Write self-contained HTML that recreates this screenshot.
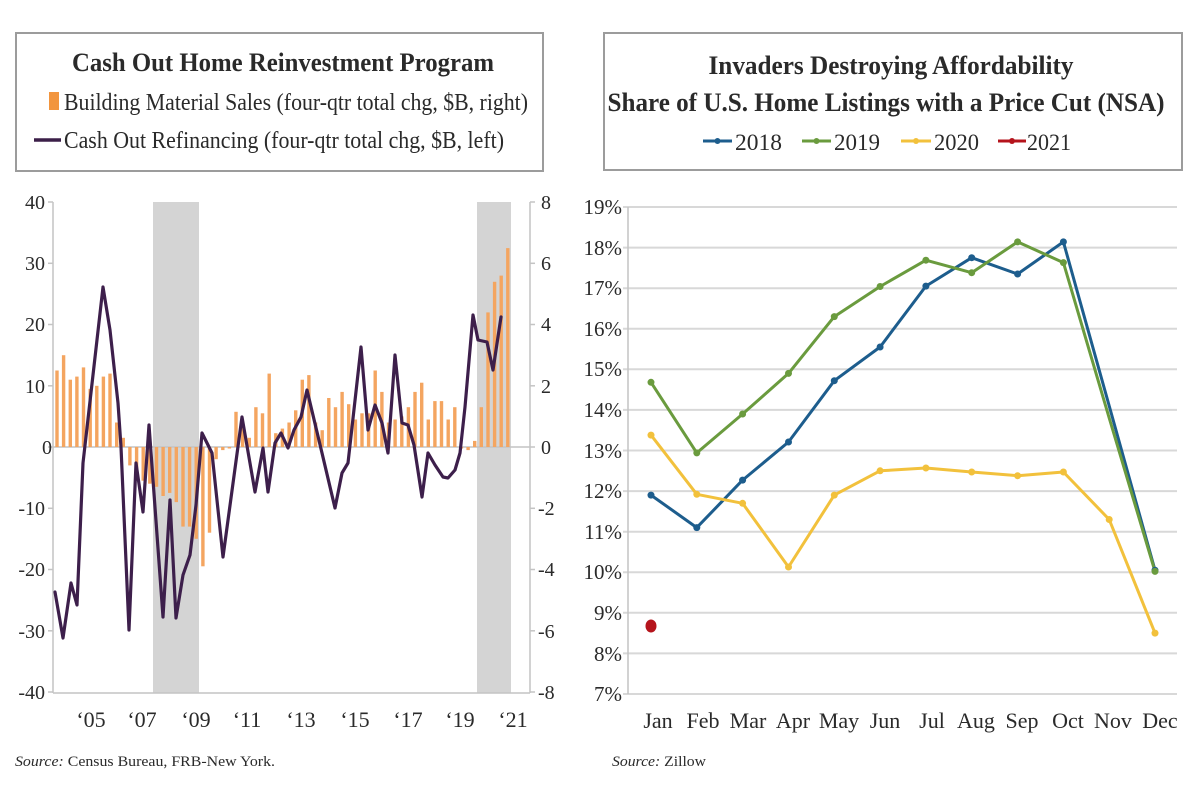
<!DOCTYPE html>
<html><head><meta charset="utf-8"><style>
html,body{margin:0;padding:0;background:#fff;}
svg{display:block;}
text{font-family:"Liberation Serif",serif;fill:#2a2a2a;}
</style></head><body>
<svg width="1200" height="800" viewBox="0 0 1200 800" xmlns="http://www.w3.org/2000/svg">
<rect width="1200" height="800" fill="#fff"/>

<!-- ===== LEFT PANEL ===== -->
<rect x="16" y="33" width="527" height="138" fill="#fff" stroke="#9c9c9c" stroke-width="2"/>
<text x="283" y="71" text-anchor="middle" font-size="26" font-weight="bold" textLength="422" lengthAdjust="spacingAndGlyphs">Cash Out Home Reinvestment Program</text>
<rect x="49" y="92" width="10" height="18" fill="#f2953e"/>
<text x="64" y="110" font-size="24" textLength="464" lengthAdjust="spacingAndGlyphs">Building Material Sales (four-qtr total chg, $B, right)</text>
<line x1="34" y1="140" x2="61" y2="140" stroke="#3b1f48" stroke-width="3.5"/>
<text x="64" y="148" font-size="24" textLength="440" lengthAdjust="spacingAndGlyphs">Cash Out Refinancing (four-qtr total chg, $B, left)</text>

<!-- recession bands -->
<rect x="153" y="202" width="46" height="491" fill="#d4d4d4"/>
<rect x="477" y="202" width="34" height="491" fill="#d4d4d4"/>

<!-- axes -->
<g stroke="#c4c4c4" stroke-width="1.5" fill="none">
<line x1="53" y1="202" x2="53" y2="693"/>
<line x1="530" y1="202" x2="530" y2="693"/>
<line x1="53" y1="447" x2="530" y2="447"/>
<line x1="53" y1="693" x2="530" y2="693"/>
<line x1="48" y1="202" x2="53" y2="202"/><line x1="48" y1="263.3" x2="53" y2="263.3"/><line x1="48" y1="324.5" x2="53" y2="324.5"/><line x1="48" y1="385.8" x2="53" y2="385.8"/><line x1="48" y1="447" x2="53" y2="447"/><line x1="48" y1="508.3" x2="53" y2="508.3"/><line x1="48" y1="569.5" x2="53" y2="569.5"/><line x1="48" y1="630.8" x2="53" y2="630.8"/><line x1="48" y1="692" x2="53" y2="692"/>
<line x1="530" y1="202" x2="535" y2="202"/><line x1="530" y1="263.3" x2="535" y2="263.3"/><line x1="530" y1="324.5" x2="535" y2="324.5"/><line x1="530" y1="385.8" x2="535" y2="385.8"/><line x1="530" y1="447" x2="535" y2="447"/><line x1="530" y1="508.3" x2="535" y2="508.3"/><line x1="530" y1="569.5" x2="535" y2="569.5"/><line x1="530" y1="630.8" x2="535" y2="630.8"/><line x1="530" y1="692" x2="535" y2="692"/>
</g>

<!-- left axis labels -->
<g font-size="20" text-anchor="end">
<text x="45" y="209">40</text>
<text x="45" y="270">30</text>
<text x="45" y="331">20</text>
<text x="45" y="393">10</text>
<text x="52" y="454">0</text>
<text x="45" y="515">-10</text>
<text x="45" y="576">-20</text>
<text x="45" y="638">-30</text>
<text x="45" y="699">-40</text>
</g>
<!-- right axis labels -->
<g font-size="20" text-anchor="start">
<text x="541" y="209">8</text>
<text x="541" y="270">6</text>
<text x="541" y="331">4</text>
<text x="541" y="393">2</text>
<text x="541" y="454">0</text>
<text x="538" y="515">-2</text>
<text x="538" y="576">-4</text>
<text x="538" y="638">-6</text>
<text x="538" y="699">-8</text>
</g>
<!-- x labels -->
<g font-size="22" text-anchor="middle">
<text x="91" y="727">‘05</text>
<text x="142" y="727">‘07</text>
<text x="196" y="727">‘09</text>
<text x="247" y="727">‘11</text>
<text x="301" y="727">‘13</text>
<text x="355" y="727">‘15</text>
<text x="408" y="727">‘17</text>
<text x="460" y="727">‘19</text>
<text x="513" y="727">‘21</text>
</g>

<!-- bars -->
<g fill="#f4a560">
<rect x="55.3" y="370.5" width="3.4" height="76.5"/>
<rect x="61.9" y="355.2" width="3.4" height="91.8"/>
<rect x="68.6" y="379.7" width="3.4" height="67.3"/>
<rect x="75.2" y="376.6" width="3.4" height="70.4"/>
<rect x="81.8" y="367.4" width="3.4" height="79.6"/>
<rect x="88.5" y="388.9" width="3.4" height="58.1"/>
<rect x="95.1" y="385.8" width="3.4" height="61.2"/>
<rect x="101.7" y="376.6" width="3.4" height="70.4"/>
<rect x="108.3" y="373.6" width="3.4" height="73.4"/>
<rect x="115.0" y="422.5" width="3.4" height="24.5"/>
<rect x="121.6" y="437.8" width="3.4" height="9.2"/>
<rect x="128.2" y="447" width="3.4" height="18.4"/>
<rect x="134.9" y="447" width="3.4" height="27.5"/>
<rect x="141.5" y="447" width="3.4" height="33.7"/>
<rect x="148.1" y="447" width="3.4" height="36.7"/>
<rect x="154.8" y="447" width="3.4" height="39.8"/>
<rect x="161.4" y="447" width="3.4" height="49"/>
<rect x="168.0" y="447" width="3.4" height="45.9"/>
<rect x="174.6" y="447" width="3.4" height="55.1"/>
<rect x="181.3" y="447" width="3.4" height="79.6"/>
<rect x="187.9" y="447" width="3.4" height="79.6"/>
<rect x="194.5" y="447" width="3.4" height="91.8"/>
<rect x="201.2" y="447" width="3.4" height="119.3"/>
<rect x="207.8" y="447" width="3.4" height="85.7"/>
<rect x="214.4" y="447" width="3.4" height="12.2"/>
<rect x="221.1" y="447" width="3.4" height="3.1"/>
<rect x="227.7" y="447" width="3.4" height="1.5"/>
<rect x="234.3" y="411.8" width="3.4" height="35.2"/>
<rect x="240.9" y="422.5" width="3.4" height="24.5"/>
<rect x="247.6" y="437.8" width="3.4" height="9.2"/>
<rect x="254.2" y="407.2" width="3.4" height="39.8"/>
<rect x="260.8" y="413.3" width="3.4" height="33.7"/>
<rect x="267.5" y="373.6" width="3.4" height="73.4"/>
<rect x="274.1" y="433.2" width="3.4" height="13.8"/>
<rect x="280.7" y="428.6" width="3.4" height="18.4"/>
<rect x="287.4" y="422.5" width="3.4" height="24.5"/>
<rect x="294.0" y="410.3" width="3.4" height="36.7"/>
<rect x="300.6" y="379.7" width="3.4" height="67.3"/>
<rect x="307.2" y="375.1" width="3.4" height="71.9"/>
<rect x="313.9" y="422.5" width="3.4" height="24.5"/>
<rect x="320.5" y="430.2" width="3.4" height="16.8"/>
<rect x="327.1" y="398" width="3.4" height="49"/>
<rect x="333.8" y="407.2" width="3.4" height="39.8"/>
<rect x="340.4" y="391.9" width="3.4" height="55.1"/>
<rect x="347.0" y="404.2" width="3.4" height="42.8"/>
<rect x="353.7" y="419.5" width="3.4" height="27.5"/>
<rect x="360.3" y="413.3" width="3.4" height="33.7"/>
<rect x="366.9" y="413.3" width="3.4" height="33.7"/>
<rect x="373.5" y="370.5" width="3.4" height="76.5"/>
<rect x="380.2" y="391.9" width="3.4" height="55.1"/>
<rect x="386.8" y="422.5" width="3.4" height="24.5"/>
<rect x="393.4" y="419.5" width="3.4" height="27.5"/>
<rect x="400.1" y="416.4" width="3.4" height="30.6"/>
<rect x="406.7" y="407.2" width="3.4" height="39.8"/>
<rect x="413.3" y="391.9" width="3.4" height="55.1"/>
<rect x="420.0" y="382.7" width="3.4" height="64.3"/>
<rect x="426.6" y="419.5" width="3.4" height="27.5"/>
<rect x="433.2" y="401.1" width="3.4" height="45.9"/>
<rect x="439.8" y="401.1" width="3.4" height="45.9"/>
<rect x="446.5" y="419.5" width="3.4" height="27.5"/>
<rect x="453.1" y="407.2" width="3.4" height="39.8"/>
<rect x="459.7" y="447" width="3.4" height="1.5"/>
<rect x="466.4" y="447" width="3.4" height="3.1"/>
<rect x="473.0" y="440.9" width="3.4" height="6.1"/>
<rect x="479.6" y="407.2" width="3.4" height="39.8"/>
<rect x="486.3" y="312.4" width="3.4" height="134.6"/>
<rect x="492.9" y="281.8" width="3.4" height="165.2"/>
<rect x="499.5" y="275.6" width="3.4" height="171.4"/>
<rect x="506.1" y="248.1" width="3.4" height="198.9"/>
</g>

<!-- cash out line -->
<polyline fill="none" stroke="#3d1f4b" stroke-width="3.2" stroke-linejoin="round" stroke-linecap="round"
points="55,592 63,638 71,583 77,605 83,463 103,287 110,330 118,403 121,447 129,630 136,463 143,512 149,425 163,617 170,500 176,618 183,575 190,555 196,505 202,433 212,453 223,557 242,417 255,492 263,448 268,492 275,443 281,433 288,448 294,430 301,417 307,390 322,453 335,508 342,473 348,463 361,347 368,430 375,405 382,423 388,453 395,355 402,423 408,425 414,445 422,497 428,453 435,465 443,477 448,478 455,470 460,453 465,407 473,315 478,340 487,342 493,370 501,317"/>

<text x="15" y="766" font-size="15" textLength="260" lengthAdjust="spacingAndGlyphs"><tspan font-style="italic">Source:</tspan>  Census Bureau, FRB-New York.</text>

<!-- ===== RIGHT PANEL ===== -->
<rect x="604" y="33" width="578" height="137" fill="#fff" stroke="#9c9c9c" stroke-width="2"/>
<text x="891" y="74" text-anchor="middle" font-size="26" font-weight="bold" textLength="365" lengthAdjust="spacingAndGlyphs">Invaders Destroying Affordability</text>
<text x="886" y="111" text-anchor="middle" font-size="26" font-weight="bold" textLength="557" lengthAdjust="spacingAndGlyphs">Share of U.S. Home Listings with a Price Cut (NSA)</text>
<g font-size="23">
<line x1="703" y1="141" x2="732" y2="141" stroke="#1d5d8d" stroke-width="3"/><circle cx="717.5" cy="141" r="3" fill="#1d5d8d"/>
<text x="735" y="150" textLength="47" lengthAdjust="spacingAndGlyphs">2018</text>
<line x1="802" y1="141" x2="831" y2="141" stroke="#6a9b3e" stroke-width="3"/><circle cx="816.5" cy="141" r="3" fill="#6a9b3e"/>
<text x="834" y="150" textLength="46" lengthAdjust="spacingAndGlyphs">2019</text>
<line x1="901" y1="141" x2="931" y2="141" stroke="#f2c13c" stroke-width="3"/><circle cx="916" cy="141" r="3" fill="#f2c13c"/>
<text x="934" y="150" textLength="45" lengthAdjust="spacingAndGlyphs">2020</text>
<line x1="998" y1="141" x2="1026" y2="141" stroke="#b5141c" stroke-width="3"/><circle cx="1012" cy="141" r="3" fill="#b5141c"/>
<text x="1027" y="150" textLength="44" lengthAdjust="spacingAndGlyphs">2021</text>
</g>

<!-- gridlines -->
<g stroke="#d8d8d8" stroke-width="2">
<line x1="623" y1="207" x2="1177" y2="207"/>
<line x1="623" y1="247.6" x2="1177" y2="247.6"/>
<line x1="623" y1="288.2" x2="1177" y2="288.2"/>
<line x1="623" y1="328.8" x2="1177" y2="328.8"/>
<line x1="623" y1="369.3" x2="1177" y2="369.3"/>
<line x1="623" y1="409.9" x2="1177" y2="409.9"/>
<line x1="623" y1="450.5" x2="1177" y2="450.5"/>
<line x1="623" y1="491.1" x2="1177" y2="491.1"/>
<line x1="623" y1="531.7" x2="1177" y2="531.7"/>
<line x1="623" y1="572.3" x2="1177" y2="572.3"/>
<line x1="623" y1="612.8" x2="1177" y2="612.8"/>
<line x1="623" y1="653.4" x2="1177" y2="653.4"/>
<line x1="623" y1="694" x2="1177" y2="694"/>
</g>
<line x1="628" y1="207" x2="628" y2="694" stroke="#c4c4c4" stroke-width="1.5"/>

<g font-size="21" text-anchor="end">
<text x="622" y="214">19%</text>
<text x="622" y="255">18%</text>
<text x="622" y="295">17%</text>
<text x="622" y="336">16%</text>
<text x="622" y="376">15%</text>
<text x="622" y="417">14%</text>
<text x="622" y="458">13%</text>
<text x="622" y="498">12%</text>
<text x="622" y="539">11%</text>
<text x="622" y="579">10%</text>
<text x="622" y="620">9%</text>
<text x="622" y="661">8%</text>
<text x="622" y="701">7%</text>
</g>
<g font-size="22" text-anchor="middle">
<text x="658" y="728">Jan</text>
<text x="703" y="728">Feb</text>
<text x="748" y="728">Mar</text>
<text x="793" y="728">Apr</text>
<text x="839" y="728">May</text>
<text x="885" y="728">Jun</text>
<text x="932" y="728">Jul</text>
<text x="976" y="728">Aug</text>
<text x="1022" y="728">Sep</text>
<text x="1068" y="728">Oct</text>
<text x="1113" y="728">Nov</text>
<text x="1160" y="728">Dec</text>
</g>

<!-- series -->
<g fill="none" stroke-width="3" stroke-linejoin="round">
<polyline stroke="#1d5d8d" points="651,495.1 696.8,527.6 742.6,480.1 788.5,442 834.3,380.7 880.1,347 925.9,286.1 971.7,257.7 1017.6,274 1063.4,241.9 1109.2,405.9 1155,570.2"/>
<polyline stroke="#6a9b3e" points="651,382.3 696.8,452.9 742.6,414 788.5,373.4 834.3,316.6 880.1,286.5 925.9,260.2 971.7,272.7 1017.6,241.9 1063.4,262.6 1109.2,418 1155,571.4"/>
<polyline stroke="#f2c13c" points="651,435.1 696.8,494.3 742.6,503.3 788.5,567 834.3,495.1 880.1,470.8 925.9,468 971.7,472 1017.6,475.7 1063.4,472 1109.2,519.5 1155,633.1"/>
</g>
<g fill="#1d5d8d">
<circle cx="651" cy="495.1" r="3.5"/><circle cx="696.8" cy="527.6" r="3.5"/><circle cx="742.6" cy="480.1" r="3.5"/><circle cx="788.5" cy="442" r="3.5"/><circle cx="834.3" cy="380.7" r="3.5"/><circle cx="880.1" cy="347" r="3.5"/><circle cx="925.9" cy="286.1" r="3.5"/><circle cx="971.7" cy="257.7" r="3.5"/><circle cx="1017.6" cy="274" r="3.5"/><circle cx="1063.4" cy="241.9" r="3.5"/><circle cx="1155" cy="570.2" r="3.5"/>
</g>
<g fill="#6a9b3e">
<circle cx="651" cy="382.3" r="3.5"/><circle cx="696.8" cy="452.9" r="3.5"/><circle cx="742.6" cy="414" r="3.5"/><circle cx="788.5" cy="373.4" r="3.5"/><circle cx="834.3" cy="316.6" r="3.5"/><circle cx="880.1" cy="286.5" r="3.5"/><circle cx="925.9" cy="260.2" r="3.5"/><circle cx="971.7" cy="272.7" r="3.5"/><circle cx="1017.6" cy="241.9" r="3.5"/><circle cx="1063.4" cy="262.6" r="3.5"/><circle cx="1155" cy="571.4" r="3.5"/>
</g>
<g fill="#f2c13c">
<circle cx="651" cy="435.1" r="3.5"/><circle cx="696.8" cy="494.3" r="3.5"/><circle cx="742.6" cy="503.3" r="3.5"/><circle cx="788.5" cy="567" r="3.5"/><circle cx="834.3" cy="495.1" r="3.5"/><circle cx="880.1" cy="470.8" r="3.5"/><circle cx="925.9" cy="468" r="3.5"/><circle cx="971.7" cy="472" r="3.5"/><circle cx="1017.6" cy="475.7" r="3.5"/><circle cx="1063.4" cy="472" r="3.5"/><circle cx="1109.2" cy="519.5" r="3.5"/><circle cx="1155" cy="633.1" r="3.5"/>
</g>
<ellipse cx="651" cy="626" rx="5.5" ry="6.5" fill="#b5141c"/>

<text x="612" y="766" font-size="15" textLength="94" lengthAdjust="spacingAndGlyphs"><tspan font-style="italic">Source:</tspan>  Zillow</text>
</svg>
</body></html>
